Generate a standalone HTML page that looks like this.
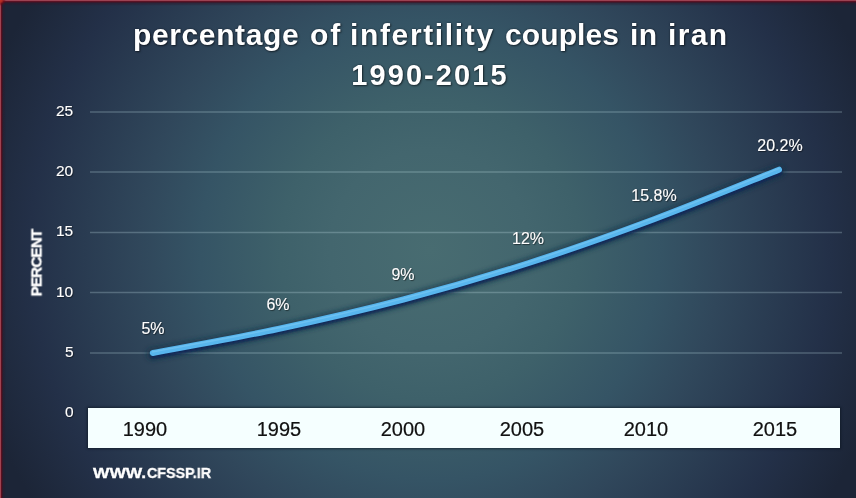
<!DOCTYPE html>
<html><head><meta charset="utf-8">
<style>
div{will-change:transform;}
html,body{margin:0;padding:0;}
body{width:856px;height:498px;overflow:hidden;position:relative;font-family:"Liberation Sans",sans-serif;
background:radial-gradient(circle at 430px 250px,rgb(72,108,113) 0px,rgb(67,102,110) 100px,rgb(62,97,106) 150px,rgb(53,84,101) 230px,rgb(48,71,91) 290px,rgb(35,48,72) 400px,rgb(33,45,67) 420px,rgb(28,37,55) 470px);}
.brd-t{position:absolute;left:1px;top:0;width:855px;height:6px;background:linear-gradient(180deg,#9c4252 0px,#9c4252 1px,#5c1224 1px,#5c1224 2px,rgba(62,20,38,.85) 2px,rgba(62,20,38,.85) 3px,rgba(44,24,44,.5) 3px,rgba(44,24,44,.5) 4px,rgba(40,30,50,.2) 5px,rgba(40,30,50,0) 6px);}
.brd-l{position:absolute;left:0;top:0;width:6px;height:498px;background:linear-gradient(90deg,#a04250 0px,#a04250 1px,#5a1020 1px,#5a1020 2px,rgba(58,22,38,.85) 2px,rgba(58,22,38,.85) 3px,rgba(40,30,46,.5) 3px,rgba(40,30,46,.5) 4px,rgba(40,30,50,.2) 5px,rgba(40,30,50,0) 6px);}
.tw{position:absolute;top:20.4px;color:#fff;font-weight:bold;font-size:30px;line-height:30px;text-shadow:0 0 2px rgba(0,10,20,.55),1px 1px 2px rgba(0,0,0,.5);white-space:nowrap;will-change:transform;}
.title{position:absolute;left:0;width:860px;text-align:center;color:#fff;font-weight:bold;font-size:30px;line-height:30px;letter-spacing:1.06px;text-shadow:0 0 2px rgba(0,10,20,.55),1px 1px 2px rgba(0,0,0,.5);white-space:nowrap;will-change:transform;}
.ylab{position:absolute;right:782.4px;color:#fff;font-size:15.5px;line-height:16px;-webkit-text-stroke:0.15px #fff;text-shadow:0 0 1px rgba(0,10,20,.5),1px 1px 1px rgba(0,0,0,.4);}
.band{position:absolute;left:88px;top:408px;width:752px;height:40px;background:#f5ffff;box-shadow:0 0 2px 1px rgba(10,20,30,.6);}
.xl{position:absolute;top:418px;width:80px;text-align:center;color:#111;font-size:20px;-webkit-text-stroke:0.2px #111;}
.dl{position:absolute;width:80px;text-align:center;color:#fff;font-size:16px;-webkit-text-stroke:0.15px #fff;text-shadow:0 0 1px rgba(0,10,20,.5),1px 1px 1px rgba(0,0,0,.45);}
.pct{position:absolute;left:36px;top:262.5px;transform:translate(-50%,-50%) rotate(-90deg);color:#fff;font-weight:bold;font-size:15px;line-height:15px;letter-spacing:-0.7px;white-space:nowrap;-webkit-text-stroke:0.45px #fff;text-shadow:0 0 1px rgba(0,10,20,.6);}
.www{position:absolute;top:464.5px;color:#fff;font-weight:bold;font-size:15px;line-height:15px;white-space:nowrap;-webkit-text-stroke:0.35px #fff;text-shadow:0 0 1px rgba(0,10,20,.6);}
svg{position:absolute;left:0;top:0;}
</style></head><body>

<div class="tw" style="left:132.8px;letter-spacing:0.62px">percentage</div>
<div class="tw" style="left:309.8px;letter-spacing:1.80px">of</div>
<div class="tw" style="left:350.3px;letter-spacing:1.64px">infertility</div>
<div class="tw" style="left:504.9px;letter-spacing:0.10px">couples</div>
<div class="tw" style="left:630.1px;letter-spacing:0.40px">in</div>
<div class="tw" style="left:667.5px;letter-spacing:1.33px">iran</div>
<div class="title" style="top:60.5px;font-size:29px;line-height:29px;letter-spacing:2.1px">1990-2015</div>

<svg width="856" height="498" viewBox="0 0 856 498">
<g stroke="rgb(205,232,240)" stroke-width="1.6" stroke-opacity="0.26">
<line x1="90" y1="112" x2="842" y2="112"/>
<line x1="90" y1="172" x2="842" y2="172"/>
<line x1="90" y1="232.5" x2="842" y2="232.5"/>
<line x1="90" y1="292.5" x2="842" y2="292.5"/>
<line x1="90" y1="353" x2="842" y2="353"/>
</g>
<defs><filter id="b1" x="-5%" y="-20%" width="110%" height="140%"><feGaussianBlur stdDeviation="1.1"/></filter>
<filter id="b2" x="-5%" y="-30%" width="110%" height="160%"><feGaussianBlur stdDeviation="2.2"/></filter></defs>
<path d="M152.8 353.0 C173.7 349.0 236.2 337.9 278.0 329.0 C319.8 320.1 361.6 310.5 403.4 299.5 C445.2 288.5 487.0 276.4 528.8 263.0 C570.6 249.6 612.3 234.8 654.0 219.2 C695.7 203.6 758.2 177.9 779.0 169.7" fill="none" stroke="#143048" stroke-opacity="0.6" stroke-width="13" stroke-linecap="round" filter="url(#b2)" transform="translate(0,1)"/>
<path d="M152.8 353.0 C173.7 349.0 236.2 337.9 278.0 329.0 C319.8 320.1 361.6 310.5 403.4 299.5 C445.2 288.5 487.0 276.4 528.8 263.0 C570.6 249.6 612.3 234.8 654.0 219.2 C695.7 203.6 758.2 177.9 779.0 169.7" fill="none" stroke="#0a2458" stroke-opacity="0.85" stroke-width="6" stroke-linecap="round" transform="translate(0.5,2.6)" filter="url(#b1)"/>
<path d="M152.8 353.0 C173.7 349.0 236.2 337.9 278.0 329.0 C319.8 320.1 361.6 310.5 403.4 299.5 C445.2 288.5 487.0 276.4 528.8 263.0 C570.6 249.6 612.3 234.8 654.0 219.2 C695.7 203.6 758.2 177.9 779.0 169.7" fill="none" stroke="#58b6ee" stroke-width="6" stroke-linecap="round"/>
<path d="M152.8 353.0 C173.7 349.0 236.2 337.9 278.0 329.0 C319.8 320.1 361.6 310.5 403.4 299.5 C445.2 288.5 487.0 276.4 528.8 263.0 C570.6 249.6 612.3 234.8 654.0 219.2 C695.7 203.6 758.2 177.9 779.0 169.7" fill="none" stroke="#80ccf6" stroke-opacity="0.5" stroke-width="1.6" stroke-linecap="round" transform="translate(0,-1.1)"/>
</svg>

<div class="ylab" style="top:103.1px">25</div>
<div class="ylab" style="top:163.1px">20</div>
<div class="ylab" style="top:223.4px">15</div>
<div class="ylab" style="top:283.6px">10</div>
<div class="ylab" style="top:343.9px">5</div>
<div class="ylab" style="top:403.9px">0</div>

<div class="pct">PERCENT</div>

<div class="band"></div>
<div class="xl" style="left:105px">1990</div>
<div class="xl" style="left:238.5px">1995</div>
<div class="xl" style="left:363px">2000</div>
<div class="xl" style="left:482px">2005</div>
<div class="xl" style="left:606.4px">2010</div>
<div class="xl" style="left:735px">2015</div>

<div class="dl" style="left:113px;top:319.5px">5%</div>
<div class="dl" style="left:238px;top:295.5px">6%</div>
<div class="dl" style="left:363px;top:265.5px">9%</div>
<div class="dl" style="left:487.5px;top:229.5px">12%</div>
<div class="dl" style="left:614px;top:187.0px">15.8%</div>
<div class="dl" style="left:740px;top:137.0px">20.2%</div>

<div class="www" style="left:93.2px;transform-origin:0 0;transform:scaleX(1.16)">WWW.</div><div class="www" style="left:146.6px;transform-origin:0 0;transform:scaleX(0.952)">CFSSP.IR</div>
<div class="brd-l"></div><div class="brd-t"></div><div style="position:absolute;left:0;top:0;width:6px;height:6px;background:radial-gradient(circle at 0 0,#c83028 0,#b02a22 2px,rgba(120,10,20,.6) 4px,rgba(90,10,20,0) 6px)"></div>
</body></html>
